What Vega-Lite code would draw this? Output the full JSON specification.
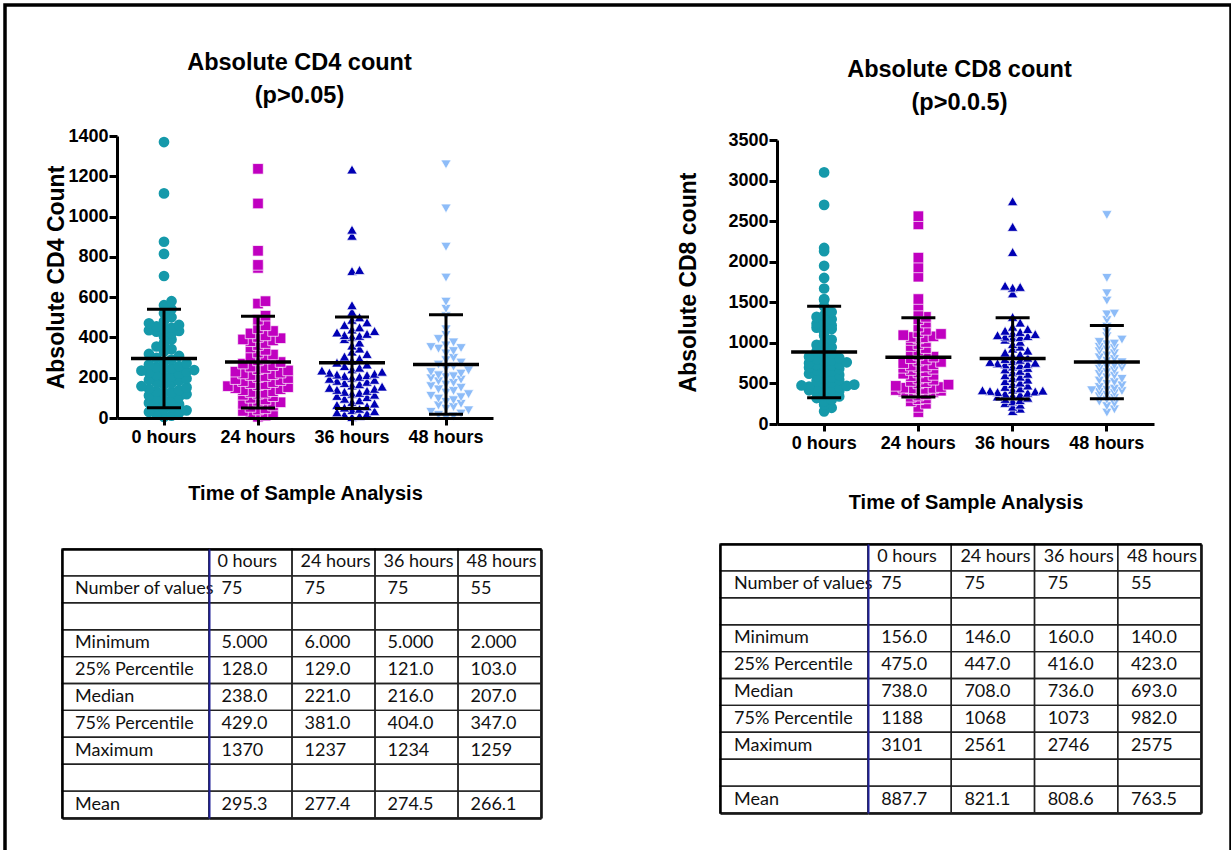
{
"$schema": "https://vega.github.io/schema/vega-lite/v6.json",
"width": 1226, "height": 850,
"autosize": {"type": "none"},
"padding": {"left": 5, "top": 5, "right": 0, "bottom": -5},
"background": "white",
"config": {"view": {"stroke": "black", "strokeWidth": 3.5}, "axis": {"labelColor": "black", "titleColor": "black", "domainColor": "black", "tickColor": "black", "grid": false}},
"datasets": {
"cd4": [
{"t":"0 hours","v":5},{"t":"0 hours","v":12},{"t":"0 hours","v":18},{"t":"0 hours","v":25},{"t":"0 hours","v":30},{"t":"0 hours","v":38},{"t":"0 hours","v":45},{"t":"0 hours","v":52},{"t":"0 hours","v":60},{"t":"0 hours","v":68},
{"t":"0 hours","v":75},{"t":"0 hours","v":82},{"t":"0 hours","v":90},{"t":"0 hours","v":98},{"t":"0 hours","v":105},{"t":"0 hours","v":112},{"t":"0 hours","v":118},{"t":"0 hours","v":124},{"t":"0 hours","v":128},{"t":"0 hours","v":132},
{"t":"0 hours","v":138},{"t":"0 hours","v":145},{"t":"0 hours","v":152},{"t":"0 hours","v":158},{"t":"0 hours","v":165},{"t":"0 hours","v":172},{"t":"0 hours","v":178},{"t":"0 hours","v":185},{"t":"0 hours","v":190},{"t":"0 hours","v":196},
{"t":"0 hours","v":202},{"t":"0 hours","v":208},{"t":"0 hours","v":214},{"t":"0 hours","v":220},{"t":"0 hours","v":226},{"t":"0 hours","v":230},{"t":"0 hours","v":235},{"t":"0 hours","v":238},{"t":"0 hours","v":242},{"t":"0 hours","v":246},
{"t":"0 hours","v":252},{"t":"0 hours","v":258},{"t":"0 hours","v":265},{"t":"0 hours","v":272},{"t":"0 hours","v":280},{"t":"0 hours","v":290},{"t":"0 hours","v":298},{"t":"0 hours","v":308},{"t":"0 hours","v":318},{"t":"0 hours","v":330},
{"t":"0 hours","v":342},{"t":"0 hours","v":355},{"t":"0 hours","v":373},{"t":"0 hours","v":390},{"t":"0 hours","v":405},{"t":"0 hours","v":420},{"t":"0 hours","v":429},{"t":"0 hours","v":432},{"t":"0 hours","v":436},{"t":"0 hours","v":442},
{"t":"0 hours","v":448},{"t":"0 hours","v":455},{"t":"0 hours","v":462},{"t":"0 hours","v":470},{"t":"0 hours","v":480},{"t":"0 hours","v":500},{"t":"0 hours","v":520},{"t":"0 hours","v":540},{"t":"0 hours","v":560},{"t":"0 hours","v":580},
{"t":"0 hours","v":705},{"t":"0 hours","v":815},{"t":"0 hours","v":875},{"t":"0 hours","v":1115},{"t":"0 hours","v":1370},
{"t":"24 hours","v":6},{"t":"24 hours","v":12},{"t":"24 hours","v":20},{"t":"24 hours","v":28},{"t":"24 hours","v":35},{"t":"24 hours","v":42},{"t":"24 hours","v":48},{"t":"24 hours","v":55},{"t":"24 hours","v":62},{"t":"24 hours","v":70},
{"t":"24 hours","v":78},{"t":"24 hours","v":85},{"t":"24 hours","v":92},{"t":"24 hours","v":100},{"t":"24 hours","v":108},{"t":"24 hours","v":115},{"t":"24 hours","v":120},{"t":"24 hours","v":125},{"t":"24 hours","v":129},{"t":"24 hours","v":133},
{"t":"24 hours","v":138},{"t":"24 hours","v":143},{"t":"24 hours","v":148},{"t":"24 hours","v":153},{"t":"24 hours","v":158},{"t":"24 hours","v":163},{"t":"24 hours","v":168},{"t":"24 hours","v":173},{"t":"24 hours","v":178},{"t":"24 hours","v":183},
{"t":"24 hours","v":188},{"t":"24 hours","v":193},{"t":"24 hours","v":198},{"t":"24 hours","v":203},{"t":"24 hours","v":208},{"t":"24 hours","v":213},{"t":"24 hours","v":217},{"t":"24 hours","v":221},{"t":"24 hours","v":225},{"t":"24 hours","v":230},
{"t":"24 hours","v":236},{"t":"24 hours","v":242},{"t":"24 hours","v":248},{"t":"24 hours","v":255},{"t":"24 hours","v":262},{"t":"24 hours","v":270},{"t":"24 hours","v":278},{"t":"24 hours","v":286},{"t":"24 hours","v":295},{"t":"24 hours","v":305},
{"t":"24 hours","v":315},{"t":"24 hours","v":325},{"t":"24 hours","v":338},{"t":"24 hours","v":350},{"t":"24 hours","v":362},{"t":"24 hours","v":372},{"t":"24 hours","v":381},{"t":"24 hours","v":385},{"t":"24 hours","v":390},{"t":"24 hours","v":396},
{"t":"24 hours","v":402},{"t":"24 hours","v":410},{"t":"24 hours","v":420},{"t":"24 hours","v":432},{"t":"24 hours","v":445},{"t":"24 hours","v":460},{"t":"24 hours","v":488},{"t":"24 hours","v":508},{"t":"24 hours","v":568},{"t":"24 hours","v":580},
{"t":"24 hours","v":745},{"t":"24 hours","v":760},{"t":"24 hours","v":830},{"t":"24 hours","v":1065},{"t":"24 hours","v":1237},
{"t":"36 hours","v":5},{"t":"36 hours","v":10},{"t":"36 hours","v":16},{"t":"36 hours","v":22},{"t":"36 hours","v":28},{"t":"36 hours","v":34},{"t":"36 hours","v":40},{"t":"36 hours","v":46},{"t":"36 hours","v":52},{"t":"36 hours","v":58},
{"t":"36 hours","v":65},{"t":"36 hours","v":72},{"t":"36 hours","v":80},{"t":"36 hours","v":88},{"t":"36 hours","v":96},{"t":"36 hours","v":104},{"t":"36 hours","v":110},{"t":"36 hours","v":116},{"t":"36 hours","v":121},{"t":"36 hours","v":125},
{"t":"36 hours","v":130},{"t":"36 hours","v":135},{"t":"36 hours","v":140},{"t":"36 hours","v":145},{"t":"36 hours","v":150},{"t":"36 hours","v":156},{"t":"36 hours","v":162},{"t":"36 hours","v":168},{"t":"36 hours","v":174},{"t":"36 hours","v":180},
{"t":"36 hours","v":185},{"t":"36 hours","v":190},{"t":"36 hours","v":195},{"t":"36 hours","v":200},{"t":"36 hours","v":205},{"t":"36 hours","v":209},{"t":"36 hours","v":213},{"t":"36 hours","v":216},{"t":"36 hours","v":220},{"t":"36 hours","v":225},
{"t":"36 hours","v":230},{"t":"36 hours","v":236},{"t":"36 hours","v":242},{"t":"36 hours","v":250},{"t":"36 hours","v":258},{"t":"36 hours","v":266},{"t":"36 hours","v":275},{"t":"36 hours","v":285},{"t":"36 hours","v":295},{"t":"36 hours","v":305},
{"t":"36 hours","v":318},{"t":"36 hours","v":330},{"t":"36 hours","v":345},{"t":"36 hours","v":360},{"t":"36 hours","v":375},{"t":"36 hours","v":392},{"t":"36 hours","v":404},{"t":"36 hours","v":408},{"t":"36 hours","v":412},{"t":"36 hours","v":418},
{"t":"36 hours","v":425},{"t":"36 hours","v":432},{"t":"36 hours","v":440},{"t":"36 hours","v":450},{"t":"36 hours","v":462},{"t":"36 hours","v":475},{"t":"36 hours","v":488},{"t":"36 hours","v":500},{"t":"36 hours","v":527},{"t":"36 hours","v":560},
{"t":"36 hours","v":730},{"t":"36 hours","v":735},{"t":"36 hours","v":905},{"t":"36 hours","v":935},{"t":"36 hours","v":1234},
{"t":"48 hours","v":2},{"t":"48 hours","v":8},{"t":"48 hours","v":15},{"t":"48 hours","v":22},{"t":"48 hours","v":30},{"t":"48 hours","v":38},{"t":"48 hours","v":46},{"t":"48 hours","v":54},{"t":"48 hours","v":62},{"t":"48 hours","v":70},
{"t":"48 hours","v":80},{"t":"48 hours","v":88},{"t":"48 hours","v":96},{"t":"48 hours","v":103},{"t":"48 hours","v":110},{"t":"48 hours","v":118},{"t":"48 hours","v":126},{"t":"48 hours","v":134},{"t":"48 hours","v":142},{"t":"48 hours","v":150},
{"t":"48 hours","v":158},{"t":"48 hours","v":166},{"t":"48 hours","v":174},{"t":"48 hours","v":182},{"t":"48 hours","v":190},{"t":"48 hours","v":197},{"t":"48 hours","v":203},{"t":"48 hours","v":207},{"t":"48 hours","v":212},{"t":"48 hours","v":220},
{"t":"48 hours","v":228},{"t":"48 hours","v":236},{"t":"48 hours","v":245},{"t":"48 hours","v":255},{"t":"48 hours","v":265},{"t":"48 hours","v":275},{"t":"48 hours","v":287},{"t":"48 hours","v":298},{"t":"48 hours","v":320},{"t":"48 hours","v":332},
{"t":"48 hours","v":344},{"t":"48 hours","v":347},{"t":"48 hours","v":352},{"t":"48 hours","v":360},{"t":"48 hours","v":375},{"t":"48 hours","v":392},{"t":"48 hours","v":412},{"t":"48 hours","v":440},{"t":"48 hours","v":505},{"t":"48 hours","v":542},
{"t":"48 hours","v":577},{"t":"48 hours","v":697},{"t":"48 hours","v":850},{"t":"48 hours","v":1040},{"t":"48 hours","v":1259}
],
"cd8": [
{"t":"0 hours","v":156},{"t":"0 hours","v":200},{"t":"0 hours","v":240},{"t":"0 hours","v":280},{"t":"0 hours","v":300},{"t":"0 hours","v":320},{"t":"0 hours","v":340},{"t":"0 hours","v":360},{"t":"0 hours","v":380},{"t":"0 hours","v":395},
{"t":"0 hours","v":405},{"t":"0 hours","v":415},{"t":"0 hours","v":425},{"t":"0 hours","v":435},{"t":"0 hours","v":445},{"t":"0 hours","v":455},{"t":"0 hours","v":462},{"t":"0 hours","v":470},{"t":"0 hours","v":475},{"t":"0 hours","v":485},
{"t":"0 hours","v":500},{"t":"0 hours","v":515},{"t":"0 hours","v":530},{"t":"0 hours","v":545},{"t":"0 hours","v":560},{"t":"0 hours","v":575},{"t":"0 hours","v":590},{"t":"0 hours","v":605},{"t":"0 hours","v":620},{"t":"0 hours","v":635},
{"t":"0 hours","v":650},{"t":"0 hours","v":665},{"t":"0 hours","v":680},{"t":"0 hours","v":695},{"t":"0 hours","v":710},{"t":"0 hours","v":720},{"t":"0 hours","v":730},{"t":"0 hours","v":738},{"t":"0 hours","v":750},{"t":"0 hours","v":760},
{"t":"0 hours","v":772},{"t":"0 hours","v":785},{"t":"0 hours","v":800},{"t":"0 hours","v":815},{"t":"0 hours","v":830},{"t":"0 hours","v":850},{"t":"0 hours","v":870},{"t":"0 hours","v":895},{"t":"0 hours","v":920},{"t":"0 hours","v":945},
{"t":"0 hours","v":975},{"t":"0 hours","v":1005},{"t":"0 hours","v":1040},{"t":"0 hours","v":1090},{"t":"0 hours","v":1130},{"t":"0 hours","v":1170},{"t":"0 hours","v":1188},{"t":"0 hours","v":1200},{"t":"0 hours","v":1215},{"t":"0 hours","v":1235},
{"t":"0 hours","v":1260},{"t":"0 hours","v":1290},{"t":"0 hours","v":1320},{"t":"0 hours","v":1341},{"t":"0 hours","v":1380},{"t":"0 hours","v":1450},{"t":"0 hours","v":1530},{"t":"0 hours","v":1540},{"t":"0 hours","v":1670},{"t":"0 hours","v":1800},
{"t":"0 hours","v":1950},{"t":"0 hours","v":2130},{"t":"0 hours","v":2170},{"t":"0 hours","v":2700},{"t":"0 hours","v":3101},
{"t":"24 hours","v":146},{"t":"24 hours","v":210},{"t":"24 hours","v":250},{"t":"24 hours","v":279},{"t":"24 hours","v":305},{"t":"24 hours","v":315},{"t":"24 hours","v":335},{"t":"24 hours","v":350},{"t":"24 hours","v":365},{"t":"24 hours","v":378},
{"t":"24 hours","v":390},{"t":"24 hours","v":400},{"t":"24 hours","v":410},{"t":"24 hours","v":418},{"t":"24 hours","v":426},{"t":"24 hours","v":433},{"t":"24 hours","v":439},{"t":"24 hours","v":444},{"t":"24 hours","v":447},{"t":"24 hours","v":455},
{"t":"24 hours","v":470},{"t":"24 hours","v":485},{"t":"24 hours","v":500},{"t":"24 hours","v":515},{"t":"24 hours","v":530},{"t":"24 hours","v":545},{"t":"24 hours","v":560},{"t":"24 hours","v":575},{"t":"24 hours","v":590},{"t":"24 hours","v":605},
{"t":"24 hours","v":620},{"t":"24 hours","v":635},{"t":"24 hours","v":650},{"t":"24 hours","v":665},{"t":"24 hours","v":680},{"t":"24 hours","v":692},{"t":"24 hours","v":702},{"t":"24 hours","v":708},{"t":"24 hours","v":720},{"t":"24 hours","v":735},
{"t":"24 hours","v":750},{"t":"24 hours","v":765},{"t":"24 hours","v":780},{"t":"24 hours","v":795},{"t":"24 hours","v":810},{"t":"24 hours","v":830},{"t":"24 hours","v":850},{"t":"24 hours","v":870},{"t":"24 hours","v":890},{"t":"24 hours","v":910},
{"t":"24 hours","v":935},{"t":"24 hours","v":960},{"t":"24 hours","v":985},{"t":"24 hours","v":1010},{"t":"24 hours","v":1035},{"t":"24 hours","v":1055},{"t":"24 hours","v":1068},{"t":"24 hours","v":1072},{"t":"24 hours","v":1080},{"t":"24 hours","v":1095},
{"t":"24 hours","v":1110},{"t":"24 hours","v":1130},{"t":"24 hours","v":1160},{"t":"24 hours","v":1200},{"t":"24 hours","v":1250},{"t":"24 hours","v":1290},{"t":"24 hours","v":1320},{"t":"24 hours","v":1385},{"t":"24 hours","v":1460},{"t":"24 hours","v":1540},
{"t":"24 hours","v":1815},{"t":"24 hours","v":1930},{"t":"24 hours","v":2050},{"t":"24 hours","v":2460},{"t":"24 hours","v":2561},
{"t":"36 hours","v":160},{"t":"36 hours","v":190},{"t":"36 hours","v":215},{"t":"36 hours","v":240},{"t":"36 hours","v":260},{"t":"36 hours","v":280},{"t":"36 hours","v":295},{"t":"36 hours","v":310},{"t":"36 hours","v":325},{"t":"36 hours","v":340},
{"t":"36 hours","v":352},{"t":"36 hours","v":364},{"t":"36 hours","v":375},{"t":"36 hours","v":385},{"t":"36 hours","v":394},{"t":"36 hours","v":402},{"t":"36 hours","v":408},{"t":"36 hours","v":412},{"t":"36 hours","v":416},{"t":"36 hours","v":425},
{"t":"36 hours","v":440},{"t":"36 hours","v":458},{"t":"36 hours","v":476},{"t":"36 hours","v":494},{"t":"36 hours","v":512},{"t":"36 hours","v":530},{"t":"36 hours","v":548},{"t":"36 hours","v":566},{"t":"36 hours","v":584},{"t":"36 hours","v":602},
{"t":"36 hours","v":620},{"t":"36 hours","v":638},{"t":"36 hours","v":656},{"t":"36 hours","v":674},{"t":"36 hours","v":692},{"t":"36 hours","v":710},{"t":"36 hours","v":725},{"t":"36 hours","v":736},{"t":"36 hours","v":740},{"t":"36 hours","v":748},
{"t":"36 hours","v":756},{"t":"36 hours","v":765},{"t":"36 hours","v":775},{"t":"36 hours","v":792},{"t":"36 hours","v":802},{"t":"36 hours","v":818},{"t":"36 hours","v":840},{"t":"36 hours","v":860},{"t":"36 hours","v":880},{"t":"36 hours","v":905},
{"t":"36 hours","v":930},{"t":"36 hours","v":955},{"t":"36 hours","v":985},{"t":"36 hours","v":1015},{"t":"36 hours","v":1040},{"t":"36 hours","v":1065},{"t":"36 hours","v":1073},{"t":"36 hours","v":1078},{"t":"36 hours","v":1085},{"t":"36 hours","v":1095},
{"t":"36 hours","v":1108},{"t":"36 hours","v":1120},{"t":"36 hours","v":1135},{"t":"36 hours","v":1150},{"t":"36 hours","v":1170},{"t":"36 hours","v":1200},{"t":"36 hours","v":1250},{"t":"36 hours","v":1320},{"t":"36 hours","v":1610},{"t":"36 hours","v":1680},
{"t":"36 hours","v":1690},{"t":"36 hours","v":1705},{"t":"36 hours","v":2120},{"t":"36 hours","v":2430},{"t":"36 hours","v":2746},
{"t":"48 hours","v":140},{"t":"48 hours","v":180},{"t":"48 hours","v":220},{"t":"48 hours","v":250},{"t":"48 hours","v":275},{"t":"48 hours","v":300},{"t":"48 hours","v":320},{"t":"48 hours","v":340},{"t":"48 hours","v":360},{"t":"48 hours","v":380},
{"t":"48 hours","v":395},{"t":"48 hours","v":405},{"t":"48 hours","v":415},{"t":"48 hours","v":423},{"t":"48 hours","v":435},{"t":"48 hours","v":455},{"t":"48 hours","v":475},{"t":"48 hours","v":495},{"t":"48 hours","v":515},{"t":"48 hours","v":535},
{"t":"48 hours","v":555},{"t":"48 hours","v":575},{"t":"48 hours","v":595},{"t":"48 hours","v":615},{"t":"48 hours","v":640},{"t":"48 hours","v":660},{"t":"48 hours","v":680},{"t":"48 hours","v":693},{"t":"48 hours","v":705},{"t":"48 hours","v":720},
{"t":"48 hours","v":740},{"t":"48 hours","v":760},{"t":"48 hours","v":780},{"t":"48 hours","v":800},{"t":"48 hours","v":820},{"t":"48 hours","v":845},{"t":"48 hours","v":870},{"t":"48 hours","v":895},{"t":"48 hours","v":920},{"t":"48 hours","v":935},
{"t":"48 hours","v":950},{"t":"48 hours","v":982},{"t":"48 hours","v":990},{"t":"48 hours","v":1010},{"t":"48 hours","v":1040},{"t":"48 hours","v":1080},{"t":"48 hours","v":1130},{"t":"48 hours","v":1200},{"t":"48 hours","v":1280},{"t":"48 hours","v":1350},
{"t":"48 hours","v":1360},{"t":"48 hours","v":1520},{"t":"48 hours","v":1610},{"t":"48 hours","v":1800},{"t":"48 hours","v":2575}
],
"labels": [
{"r":"h","s":""},{"r":"n","s":"Number of values"},{"r":"b1","s":""},{"r":"min","s":"Minimum"},{"r":"q1","s":"25% Percentile"},{"r":"med","s":"Median"},{"r":"q3","s":"75% Percentile"},{"r":"max","s":"Maximum"},{"r":"b2","s":""},{"r":"mean","s":"Mean"}
],
"cells": [
{"k":"CD4","r":"h","c":"0 hours","s":"0 hours"},{"k":"CD4","r":"h","c":"24 hours","s":"24 hours"},{"k":"CD4","r":"h","c":"36 hours","s":"36 hours"},{"k":"CD4","r":"h","c":"48 hours","s":"48 hours"},
{"k":"CD4","r":"n","c":"0 hours","s":"75"},{"k":"CD4","r":"n","c":"24 hours","s":"75"},{"k":"CD4","r":"n","c":"36 hours","s":"75"},{"k":"CD4","r":"n","c":"48 hours","s":"55"},
{"k":"CD4","r":"b1","c":"0 hours","s":""},{"k":"CD4","r":"b1","c":"24 hours","s":""},{"k":"CD4","r":"b1","c":"36 hours","s":""},{"k":"CD4","r":"b1","c":"48 hours","s":""},
{"k":"CD4","r":"min","c":"0 hours","s":"5.000"},{"k":"CD4","r":"min","c":"24 hours","s":"6.000"},{"k":"CD4","r":"min","c":"36 hours","s":"5.000"},{"k":"CD4","r":"min","c":"48 hours","s":"2.000"},
{"k":"CD4","r":"q1","c":"0 hours","s":"128.0"},{"k":"CD4","r":"q1","c":"24 hours","s":"129.0"},{"k":"CD4","r":"q1","c":"36 hours","s":"121.0"},{"k":"CD4","r":"q1","c":"48 hours","s":"103.0"},
{"k":"CD4","r":"med","c":"0 hours","s":"238.0"},{"k":"CD4","r":"med","c":"24 hours","s":"221.0"},{"k":"CD4","r":"med","c":"36 hours","s":"216.0"},{"k":"CD4","r":"med","c":"48 hours","s":"207.0"},
{"k":"CD4","r":"q3","c":"0 hours","s":"429.0"},{"k":"CD4","r":"q3","c":"24 hours","s":"381.0"},{"k":"CD4","r":"q3","c":"36 hours","s":"404.0"},{"k":"CD4","r":"q3","c":"48 hours","s":"347.0"},
{"k":"CD4","r":"max","c":"0 hours","s":"1370"},{"k":"CD4","r":"max","c":"24 hours","s":"1237"},{"k":"CD4","r":"max","c":"36 hours","s":"1234"},{"k":"CD4","r":"max","c":"48 hours","s":"1259"},
{"k":"CD4","r":"b2","c":"0 hours","s":""},{"k":"CD4","r":"b2","c":"24 hours","s":""},{"k":"CD4","r":"b2","c":"36 hours","s":""},{"k":"CD4","r":"b2","c":"48 hours","s":""},
{"k":"CD4","r":"mean","c":"0 hours","s":"295.3"},{"k":"CD4","r":"mean","c":"24 hours","s":"277.4"},{"k":"CD4","r":"mean","c":"36 hours","s":"274.5"},{"k":"CD4","r":"mean","c":"48 hours","s":"266.1"},
{"k":"CD8","r":"h","c":"0 hours","s":"0 hours"},{"k":"CD8","r":"h","c":"24 hours","s":"24 hours"},{"k":"CD8","r":"h","c":"36 hours","s":"36 hours"},{"k":"CD8","r":"h","c":"48 hours","s":"48 hours"},
{"k":"CD8","r":"n","c":"0 hours","s":"75"},{"k":"CD8","r":"n","c":"24 hours","s":"75"},{"k":"CD8","r":"n","c":"36 hours","s":"75"},{"k":"CD8","r":"n","c":"48 hours","s":"55"},
{"k":"CD8","r":"b1","c":"0 hours","s":""},{"k":"CD8","r":"b1","c":"24 hours","s":""},{"k":"CD8","r":"b1","c":"36 hours","s":""},{"k":"CD8","r":"b1","c":"48 hours","s":""},
{"k":"CD8","r":"min","c":"0 hours","s":"156.0"},{"k":"CD8","r":"min","c":"24 hours","s":"146.0"},{"k":"CD8","r":"min","c":"36 hours","s":"160.0"},{"k":"CD8","r":"min","c":"48 hours","s":"140.0"},
{"k":"CD8","r":"q1","c":"0 hours","s":"475.0"},{"k":"CD8","r":"q1","c":"24 hours","s":"447.0"},{"k":"CD8","r":"q1","c":"36 hours","s":"416.0"},{"k":"CD8","r":"q1","c":"48 hours","s":"423.0"},
{"k":"CD8","r":"med","c":"0 hours","s":"738.0"},{"k":"CD8","r":"med","c":"24 hours","s":"708.0"},{"k":"CD8","r":"med","c":"36 hours","s":"736.0"},{"k":"CD8","r":"med","c":"48 hours","s":"693.0"},
{"k":"CD8","r":"q3","c":"0 hours","s":"1188"},{"k":"CD8","r":"q3","c":"24 hours","s":"1068"},{"k":"CD8","r":"q3","c":"36 hours","s":"1073"},{"k":"CD8","r":"q3","c":"48 hours","s":"982.0"},
{"k":"CD8","r":"max","c":"0 hours","s":"3101"},{"k":"CD8","r":"max","c":"24 hours","s":"2561"},{"k":"CD8","r":"max","c":"36 hours","s":"2746"},{"k":"CD8","r":"max","c":"48 hours","s":"2575"},
{"k":"CD8","r":"b2","c":"0 hours","s":""},{"k":"CD8","r":"b2","c":"24 hours","s":""},{"k":"CD8","r":"b2","c":"36 hours","s":""},{"k":"CD8","r":"b2","c":"48 hours","s":""},
{"k":"CD8","r":"mean","c":"0 hours","s":"887.7"},{"k":"CD8","r":"mean","c":"24 hours","s":"821.1"},{"k":"CD8","r":"mean","c":"36 hours","s":"808.6"},{"k":"CD8","r":"mean","c":"48 hours","s":"763.5"}
]
},
"layer": [
{
"data": {"name": "cd4"},
"transform": [
{"bin": {"step": 40}, "field": "v", "as": "vb"},
{"window": [{"op": "row_number", "as": "lane"}], "groupby": ["t", "vb"], "sort": [{"field": "v", "order": "ascending"}]}
],
"mark": {"type": "point", "filled": true, "opacity": 1, "stroke": "white"},
"encoding": {
"x": {"field": "t", "type": "nominal", "scale": {"domain": ["0 hours","24 hours","36 hours","48 hours"], "range": [112, 488], "paddingInner": 0.12, "paddingOuter": 0.06},
 "axis": {"orient": "bottom", "offset": -437, "zindex": 1, "domainWidth": 3, "tickWidth": 3, "tickSize": 7, "labelFont": "Liberation Sans", "labelFontSize": 18, "labelFontWeight": "bold", "labelPadding": 3, "labelAngle": 0, "title": "Time of Sample Analysis", "titleFont": "Liberation Sans", "titleFontSize": 20, "titleFontWeight": "bold", "titleY": 75, "titleBaseline": "middle"}},
"xOffset": {"field": "lane", "type": "ordinal", "scale": {"domain": [11,9,7,5,3,1,2,4,6,8,10]}},
"y": {"field": "v", "type": "quantitative", "scale": {"domain": [0, 1400], "range": [413, 131], "nice": false},
 "axis": {"orient": "left", "offset": -112, "zindex": 1, "values": [0,200,400,600,800,1000,1200,1400], "format": "d", "domainWidth": 3, "tickWidth": 3, "tickSize": 8, "labelFont": "Liberation Sans", "labelFontSize": 18, "labelFontWeight": "bold", "labelPadding": 1, "title": "Absolute CD4 Count", "titleFont": "Liberation Sans", "titleFontSize": 23, "titleFontWeight": "bold", "titleX": -61, "titleBaseline": "middle"}},
"color": {"field": "t", "type": "nominal", "scale": {"domain": ["0 hours","24 hours","36 hours","48 hours"], "range": ["#1599aa","#c000c0","#0000b4","#8dbcf8"]}, "legend": null},
"shape": {"field": "t", "type": "nominal", "scale": {"domain": ["0 hours","24 hours","36 hours","48 hours"], "range": ["circle","square","triangle-up","triangle-down"]}, "legend": null},
"size": {"field": "t", "type": "ordinal", "scale": {"domain": ["0 hours","24 hours","36 hours","48 hours"], "range": [115, 105, 145, 145]}, "legend": null},
"strokeWidth": {"condition": {"test": "datum.t === '0 hours'", "value": 0}, "value": 0.7}
}
},
{
"data": {"name": "cd4"},
"mark": {"type": "errorbar", "extent": "stdev", "color": "black", "opacity": 1, "thickness": 3, "ticks": {"size": 34, "thickness": 3, "color": "black", "opacity": 1}},
"encoding": {
"x": {"field": "t", "type": "nominal", "scale": {"domain": ["0 hours","24 hours","36 hours","48 hours"], "range": [112, 488], "paddingInner": 0.12, "paddingOuter": 0.06},
 "axis": {"orient": "top", "offset": 0, "domain": false, "ticks": false, "labels": false, "title": ["Absolute CD4 count", "(p>0.05)"], "titleFont": "Liberation Sans", "titleFontSize": 23.5, "titleFontWeight": "bold", "titleX": 294, "titleY": 64.5, "titleBaseline": "alphabetic", "titleAlign": "center", "titleLineHeight": 33}},
"y": {"field": "v", "type": "quantitative", "scale": {"domain": [0, 1400], "range": [413, 131], "nice": false}, "axis": null}
}
},
{
"data": {"name": "cd4"},
"mark": {"type": "tick", "color": "black", "opacity": 1, "size": 66, "thickness": 3.5},
"encoding": {
"x": {"field": "t", "type": "nominal", "scale": {"domain": ["0 hours","24 hours","36 hours","48 hours"], "range": [112, 488], "paddingInner": 0.12, "paddingOuter": 0.06}, "axis": null},
"y": {"aggregate": "mean", "field": "v", "type": "quantitative", "scale": {"domain": [0, 1400], "range": [413, 131], "nice": false}, "axis": null}
}
},
{
"data": {"name": "cd8"},
"transform": [
{"bin": {"step": 70}, "field": "v", "as": "vb"},
{"window": [{"op": "row_number", "as": "lane"}], "groupby": ["t", "vb"], "sort": [{"field": "v", "order": "ascending"}]}
],
"mark": {"type": "point", "filled": true, "opacity": 1, "stroke": "white"},
"encoding": {
"x": {"field": "t", "type": "nominal", "scale": {"domain": ["0 hours","24 hours","36 hours","48 hours"], "range": [772, 1149], "paddingInner": 0.12, "paddingOuter": 0.06},
 "axis": {"orient": "bottom", "offset": -431, "zindex": 1, "domainWidth": 3, "tickWidth": 3, "tickSize": 7, "labelFont": "Liberation Sans", "labelFontSize": 18, "labelFontWeight": "bold", "labelPadding": 3, "labelAngle": 0, "title": "Time of Sample Analysis", "titleFont": "Liberation Sans", "titleFontSize": 20, "titleFontWeight": "bold", "titleY": 78, "titleBaseline": "middle"}},
"xOffset": {"field": "lane", "type": "ordinal", "scale": {"domain": [11,9,7,5,3,1,2,4,6,8,10]}},
"y": {"field": "v", "type": "quantitative", "scale": {"domain": [0, 3500], "range": [419, 135], "nice": false},
 "axis": {"orient": "left", "offset": -772, "zindex": 1, "values": [0,500,1000,1500,2000,2500,3000,3500], "format": "d", "domainWidth": 3, "tickWidth": 3, "tickSize": 8, "labelFont": "Liberation Sans", "labelFontSize": 18, "labelFontWeight": "bold", "labelPadding": 1, "title": "Absolute CD8 count", "titleFont": "Liberation Sans", "titleFontSize": 23, "titleFontWeight": "bold", "titleX": -89, "titleBaseline": "middle"}},
"color": {"field": "t", "type": "nominal", "scale": {"domain": ["0 hours","24 hours","36 hours","48 hours"], "range": ["#1599aa","#c000c0","#0000b4","#8dbcf8"]}, "legend": null},
"shape": {"field": "t", "type": "nominal", "scale": {"domain": ["0 hours","24 hours","36 hours","48 hours"], "range": ["circle","square","triangle-up","triangle-down"]}, "legend": null},
"size": {"field": "t", "type": "ordinal", "scale": {"domain": ["0 hours","24 hours","36 hours","48 hours"], "range": [115, 105, 145, 145]}, "legend": null},
"strokeWidth": {"condition": {"test": "datum.t === '0 hours'", "value": 0}, "value": 0.7}
}
},
{
"data": {"name": "cd8"},
"mark": {"type": "errorbar", "extent": "stdev", "color": "black", "opacity": 1, "thickness": 3, "ticks": {"size": 34, "thickness": 3, "color": "black", "opacity": 1}},
"encoding": {
"x": {"field": "t", "type": "nominal", "scale": {"domain": ["0 hours","24 hours","36 hours","48 hours"], "range": [772, 1149], "paddingInner": 0.12, "paddingOuter": 0.06},
 "axis": {"orient": "top", "offset": 0, "domain": false, "ticks": false, "labels": false, "title": ["Absolute CD8 count", "(p>0.0.5)"], "titleFont": "Liberation Sans", "titleFontSize": 23.5, "titleFontWeight": "bold", "titleX": 954, "titleY": 71.5, "titleBaseline": "alphabetic", "titleAlign": "center", "titleLineHeight": 33}},
"y": {"field": "v", "type": "quantitative", "scale": {"domain": [0, 3500], "range": [419, 135], "nice": false}, "axis": null}
}
},
{
"data": {"name": "cd8"},
"mark": {"type": "tick", "color": "black", "opacity": 1, "size": 66, "thickness": 3.5},
"encoding": {
"x": {"field": "t", "type": "nominal", "scale": {"domain": ["0 hours","24 hours","36 hours","48 hours"], "range": [772, 1149], "paddingInner": 0.12, "paddingOuter": 0.06}, "axis": null},
"y": {"aggregate": "mean", "field": "v", "type": "quantitative", "scale": {"domain": [0, 3500], "range": [419, 135], "nice": false}, "axis": null}
}
},
{
"data": {"name": "cells"},
"transform": [{"filter": "datum.k === 'CD4'"}],
"mark": {"type": "rect", "filled": false, "stroke": "#222222", "strokeWidth": 1.4},
"encoding": {
"x": {"field": "c", "type": "nominal", "scale": {"domain": ["0 hours","24 hours","36 hours","48 hours"], "range": [204, 536], "paddingInner": 0, "paddingOuter": 0}, "axis": {"orient": "top", "offset": -544, "domainWidth": 2.5, "ticks": false, "labels": false, "title": null}},
"y": {"field": "r", "type": "nominal", "scale": {"domain": ["h","n","b1","min","q1","med","q3","max","b2","mean"], "range": [544, 813], "paddingInner": 0, "paddingOuter": 0}, "axis": {"orient": "left", "offset": -204, "zindex": 1, "domainColor": "#1f1f96", "domainWidth": 2, "ticks": false, "labels": false, "title": null}}
}
},
{
"data": {"name": "cells"},
"transform": [{"filter": "datum.k === 'CD4' && datum.r !== 'h'"}],
"mark": {"type": "text", "align": "left", "baseline": "middle", "dx": -29, "font": "Lato", "fontSize": 18, "color": "#111111"},
"encoding": {
"x": {"field": "c", "type": "nominal", "scale": {"domain": ["0 hours","24 hours","36 hours","48 hours"], "range": [204, 536], "paddingInner": 0, "paddingOuter": 0}, "axis": {"orient": "bottom", "offset": -37, "domainWidth": 2.5, "ticks": false, "labels": false, "title": null}},
"y": {"field": "r", "type": "nominal", "scale": {"domain": ["h","n","b1","min","q1","med","q3","max","b2","mean"], "range": [544, 813], "paddingInner": 0, "paddingOuter": 0}, "axis": {"orient": "right", "offset": -690, "domainWidth": 2.5, "ticks": false, "labels": false, "title": null}},
"text": {"field": "s"}
}
},
{
"data": {"name": "cells"},
"transform": [{"filter": "datum.k === 'CD4' && datum.r === 'h'"}],
"mark": {"type": "text", "align": "left", "baseline": "middle", "dx": -33, "font": "Lato", "fontSize": 18, "color": "#111111"},
"encoding": {
"x": {"field": "c", "type": "nominal", "scale": {"domain": ["0 hours","24 hours","36 hours","48 hours"], "range": [204, 536], "paddingInner": 0, "paddingOuter": 0}, "axis": null},
"y": {"field": "r", "type": "nominal", "scale": {"domain": ["h","n","b1","min","q1","med","q3","max","b2","mean"], "range": [544, 813], "paddingInner": 0, "paddingOuter": 0}, "axis": null},
"text": {"field": "s"}
}
},
{
"data": {"name": "labels"},
"mark": {"type": "rect", "filled": false, "stroke": "#222222", "strokeWidth": 1.4},
"encoding": {
"x": {"datum": "lab", "type": "nominal", "scale": {"domain": ["lab"], "range": [57, 204], "paddingInner": 0, "paddingOuter": 0}, "axis": {"orient": "top", "offset": -544, "domainWidth": 2.5, "ticks": false, "labels": false, "title": null}},
"y": {"field": "r", "type": "nominal", "scale": {"domain": ["h","n","b1","min","q1","med","q3","max","b2","mean"], "range": [544, 813], "paddingInner": 0, "paddingOuter": 0}, "axis": {"orient": "left", "offset": -57, "domainWidth": 2.5, "ticks": false, "labels": false, "title": null}}
}
},
{
"data": {"name": "labels"},
"mark": {"type": "text", "align": "left", "baseline": "middle", "dx": -60.5, "font": "Lato", "fontSize": 18, "color": "#111111"},
"encoding": {
"x": {"datum": "lab", "type": "nominal", "scale": {"domain": ["lab"], "range": [57, 204], "paddingInner": 0, "paddingOuter": 0}, "axis": {"orient": "bottom", "offset": -37, "domainWidth": 2.5, "ticks": false, "labels": false, "title": null}},
"y": {"field": "r", "type": "nominal", "scale": {"domain": ["h","n","b1","min","q1","med","q3","max","b2","mean"], "range": [544, 813], "paddingInner": 0, "paddingOuter": 0}, "axis": null},
"text": {"field": "s"}
}
},
{
"data": {"name": "cells"},
"transform": [{"filter": "datum.k === 'CD8'"}],
"mark": {"type": "rect", "filled": false, "stroke": "#222222", "strokeWidth": 1.4},
"encoding": {
"x": {"field": "c", "type": "nominal", "scale": {"domain": ["0 hours","24 hours","36 hours","48 hours"], "range": [863, 1196], "paddingInner": 0, "paddingOuter": 0}, "axis": {"orient": "top", "offset": -539, "domainWidth": 2.5, "ticks": false, "labels": false, "title": null}},
"y": {"field": "r", "type": "nominal", "scale": {"domain": ["h","n","b1","min","q1","med","q3","max","b2","mean"], "range": [539, 808], "paddingInner": 0, "paddingOuter": 0}, "axis": {"orient": "left", "offset": -863, "zindex": 1, "domainColor": "#1f1f96", "domainWidth": 2, "ticks": false, "labels": false, "title": null}}
}
},
{
"data": {"name": "cells"},
"transform": [{"filter": "datum.k === 'CD8' && datum.r !== 'h'"}],
"mark": {"type": "text", "align": "left", "baseline": "middle", "dx": -28.5, "font": "Lato", "fontSize": 18, "color": "#111111"},
"encoding": {
"x": {"field": "c", "type": "nominal", "scale": {"domain": ["0 hours","24 hours","36 hours","48 hours"], "range": [863, 1196], "paddingInner": 0, "paddingOuter": 0}, "axis": {"orient": "bottom", "offset": -42, "domainWidth": 2.5, "ticks": false, "labels": false, "title": null}},
"y": {"field": "r", "type": "nominal", "scale": {"domain": ["h","n","b1","min","q1","med","q3","max","b2","mean"], "range": [539, 808], "paddingInner": 0, "paddingOuter": 0}, "axis": {"orient": "right", "offset": -30, "domainWidth": 2.5, "ticks": false, "labels": false, "title": null}},
"text": {"field": "s"}
}
},
{
"data": {"name": "cells"},
"transform": [{"filter": "datum.k === 'CD8' && datum.r === 'h'"}],
"mark": {"type": "text", "align": "left", "baseline": "middle", "dx": -32.5, "font": "Lato", "fontSize": 18, "color": "#111111"},
"encoding": {
"x": {"field": "c", "type": "nominal", "scale": {"domain": ["0 hours","24 hours","36 hours","48 hours"], "range": [863, 1196], "paddingInner": 0, "paddingOuter": 0}, "axis": null},
"y": {"field": "r", "type": "nominal", "scale": {"domain": ["h","n","b1","min","q1","med","q3","max","b2","mean"], "range": [539, 808], "paddingInner": 0, "paddingOuter": 0}, "axis": null},
"text": {"field": "s"}
}
},
{
"data": {"name": "labels"},
"mark": {"type": "rect", "filled": false, "stroke": "#222222", "strokeWidth": 1.4},
"encoding": {
"x": {"datum": "lab", "type": "nominal", "scale": {"domain": ["lab"], "range": [715, 863], "paddingInner": 0, "paddingOuter": 0}, "axis": {"orient": "top", "offset": -539, "domainWidth": 2.5, "ticks": false, "labels": false, "title": null}},
"y": {"field": "r", "type": "nominal", "scale": {"domain": ["h","n","b1","min","q1","med","q3","max","b2","mean"], "range": [539, 808], "paddingInner": 0, "paddingOuter": 0}, "axis": {"orient": "left", "offset": -715, "domainWidth": 2.5, "ticks": false, "labels": false, "title": null}}
}
},
{
"data": {"name": "labels"},
"mark": {"type": "text", "align": "left", "baseline": "middle", "dx": -60, "font": "Lato", "fontSize": 18, "color": "#111111"},
"encoding": {
"x": {"datum": "lab", "type": "nominal", "scale": {"domain": ["lab"], "range": [715, 863], "paddingInner": 0, "paddingOuter": 0}, "axis": {"orient": "bottom", "offset": -42, "domainWidth": 2.5, "ticks": false, "labels": false, "title": null}},
"y": {"field": "r", "type": "nominal", "scale": {"domain": ["h","n","b1","min","q1","med","q3","max","b2","mean"], "range": [539, 808], "paddingInner": 0, "paddingOuter": 0}, "axis": null},
"text": {"field": "s"}
}
}
],
"resolve": {
"scale": {"x": "independent", "y": "independent", "xOffset": "independent", "color": "independent", "shape": "independent", "size": "independent"},
"axis": {"x": "independent", "y": "independent"},
"legend": {"color": "independent", "shape": "independent", "size": "independent"}
}
}
